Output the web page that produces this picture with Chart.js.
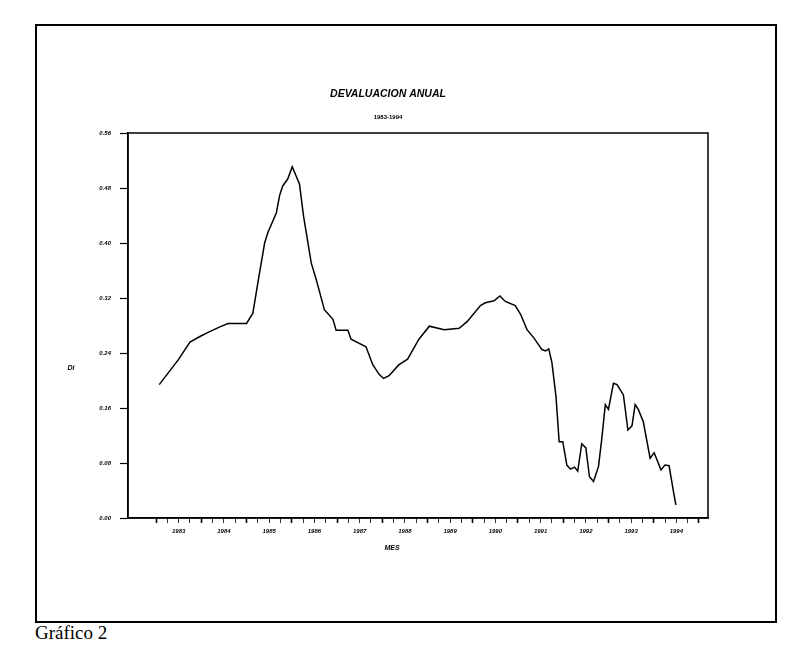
<!DOCTYPE html>
<html>
<head>
<meta charset="utf-8">
<script src="https://cdn.jsdelivr.net/npm/chart.js@4/dist/chart.umd.min.js"></script>
<style>
  html, body { margin: 0; padding: 0; background: #fff; }
  #frame {
    position: absolute; left: 35px; top: 24px; width: 742px; height: 599px;
    border: 2px solid #000; box-sizing: border-box;
  }
  #caption {
    position: absolute; left: 35px; top: 622px;
    font: 19px "Liberation Serif", "Times New Roman", serif; color: #000;
  }
  #chart { position: absolute; left: 0; top: 0; }
</style>
</head>
<body>
<div id="frame"></div>
<div id="caption">Gráfico 2</div>
<canvas id="chart" width="800" height="650"></canvas>

<script>
// --- datos (periodo en años decimales, devaluacion anual) ---
const periods = [
  1983.07, 1983.49, 1983.75, 1983.97, 1984.15, 1984.41, 1984.59, 1985.00, 1985.14, 1985.25,
  1985.40, 1985.47, 1985.66, 1985.73, 1985.80, 1985.91, 1986.01, 1986.17, 1986.26, 1986.43,
  1986.54, 1986.61, 1986.72, 1986.91, 1986.98, 1987.24, 1987.31, 1987.64, 1987.79, 1987.93,
  1988.03, 1988.15, 1988.37, 1988.56, 1988.81, 1989.04, 1989.37, 1989.70, 1989.88, 1990.17,
  1990.28, 1990.47, 1990.60, 1990.72, 1990.94, 1991.06, 1991.20, 1991.35, 1991.53, 1991.61,
  1991.68, 1991.75, 1991.84, 1991.91, 1991.99, 1992.08, 1992.16, 1992.25, 1992.32, 1992.41,
  1992.50, 1992.58, 1992.67, 1992.78, 1992.85, 1992.93, 1993.00, 1993.11, 1993.19, 1993.33,
  1993.43, 1993.52, 1993.59, 1993.66, 1993.77, 1993.92, 1994.01, 1994.16, 1994.25, 1994.34,
  1994.43, 1994.49
];
const devaluacion = [
  0.194, 0.230, 0.256, 0.264, 0.270, 0.278, 0.283, 0.283, 0.298, 0.342,
  0.400, 0.415, 0.444, 0.469, 0.483, 0.493, 0.511, 0.486, 0.439, 0.371,
  0.347, 0.330, 0.303, 0.289, 0.273, 0.273, 0.260, 0.249, 0.223, 0.209,
  0.203, 0.207, 0.223, 0.231, 0.260, 0.279, 0.274, 0.276, 0.286, 0.309,
  0.313, 0.316, 0.323, 0.315, 0.309, 0.296, 0.274, 0.262, 0.245, 0.243,
  0.246, 0.226, 0.177, 0.111, 0.111, 0.077, 0.071, 0.074, 0.068, 0.108,
  0.102, 0.060, 0.053, 0.075, 0.114, 0.165, 0.158, 0.196, 0.194, 0.179,
  0.128, 0.134, 0.165, 0.158, 0.140, 0.087, 0.095, 0.070, 0.077, 0.076,
  0.041, 0.019
];

// etiquetas de año (centradas en el año) y marcas trimestrales
const yearLabels = ['1983', '1984', '1985', '1986', '1987', '1988', '1989', '1990', '1991', '1992', '1993', '1994'];
const xTicks = [];
for (let q = 1983 * 4; q <= 1995 * 4; q++) xTicks.push(q / 4);
const yTicks = [0.00, 0.08, 0.16, 0.24, 0.32, 0.40, 0.48, 0.56];

const tickFont = { family: 'Liberation Sans, Arial, sans-serif', size: 6, style: 'italic', weight: 'bold' };

// caja del area de grafico + rotulos de ejes sin rotar
const extrasPlugin = {
  id: 'extras',
  afterDraw(chart) {
    const { ctx, chartArea: a } = chart;
    ctx.save();
    ctx.strokeStyle = '#000';
    ctx.lineWidth = 1.5;
    ctx.strokeRect(a.left, a.top, a.right - a.left, a.bottom - a.top);
    ctx.fillStyle = '#000';
    ctx.font = 'italic bold 7px "Liberation Sans", Arial, sans-serif';
    ctx.textAlign = 'center';
    ctx.textBaseline = 'middle';
    ctx.fillText('MES', a.left + 264, a.bottom + 30);
    ctx.fillText('Di', a.left - 57, a.top + 235);
    ctx.restore();
  }
};

new Chart(document.getElementById('chart'), {
  type: 'line',
  data: {
    datasets: [{
      data: periods.map((p, i) => ({ x: p, y: devaluacion[i] })),
      borderColor: '#000',
      borderWidth: 1.5,
      pointRadius: 0,
      tension: 0,
      fill: false
    }]
  },
  options: {
    responsive: false,
    animation: false,
    layout: { padding: { left: 68, right: 92, top: 88, bottom: 82 } },
    plugins: {
      legend: { display: false },
      tooltip: { enabled: false },
      title: {
        display: true,
        text: 'DEVALUACION ANUAL',
        color: '#000',
        font: { family: 'Liberation Sans, Arial, sans-serif', size: 10.5, style: 'italic', weight: 'bold' },
        padding: { top: 0, bottom: 13.4 }
      },
      subtitle: {
        display: true,
        text: '1983-1994',
        color: '#000',
        font: { family: 'Liberation Sans, Arial, sans-serif', size: 6, weight: 'bold' },
        padding: { top: 0, bottom: 11.8 }
      }
    },
    scales: {
      x: {
        type: 'linear',
        min: 1982.38,
        max: 1995.2,
        afterBuildTicks: scale => { scale.ticks = xTicks.map(v => ({ value: v })); },
        afterFit: scale => { scale.height = 50; },
        border: { color: '#000', width: 1.5 },
        grid: {
          drawOnChartArea: false,
          tickLength: 5,
          tickColor: '#000',
          tickWidth: c => (Number.isInteger(c.tick.value) ? 1.6 : 0.8)
        },
        ticks: {
          autoSkip: false,
          maxRotation: 0,
          padding: 5,
          color: '#000',
          font: tickFont,
          callback: v => {
            const y = v - 0.5;
            return Number.isInteger(y) ? yearLabels[y - 1983] || '' : '';
          }
        }
      },
      y: {
        min: 0,
        max: 0.56,
        afterBuildTicks: scale => { scale.ticks = yTicks.map(v => ({ value: v })); },
        afterFit: scale => { scale.width = 60; },
        border: { color: '#000', width: 1.5 },
        grid: { drawOnChartArea: false, tickLength: 8, tickColor: '#000', tickWidth: 1.2 },
        ticks: {
          padding: 9,
          color: '#000',
          font: tickFont,
          callback: v => v.toFixed(2)
        }
      }
    }
  },
  plugins: [extrasPlugin]
});
</script>
</body>
</html>
